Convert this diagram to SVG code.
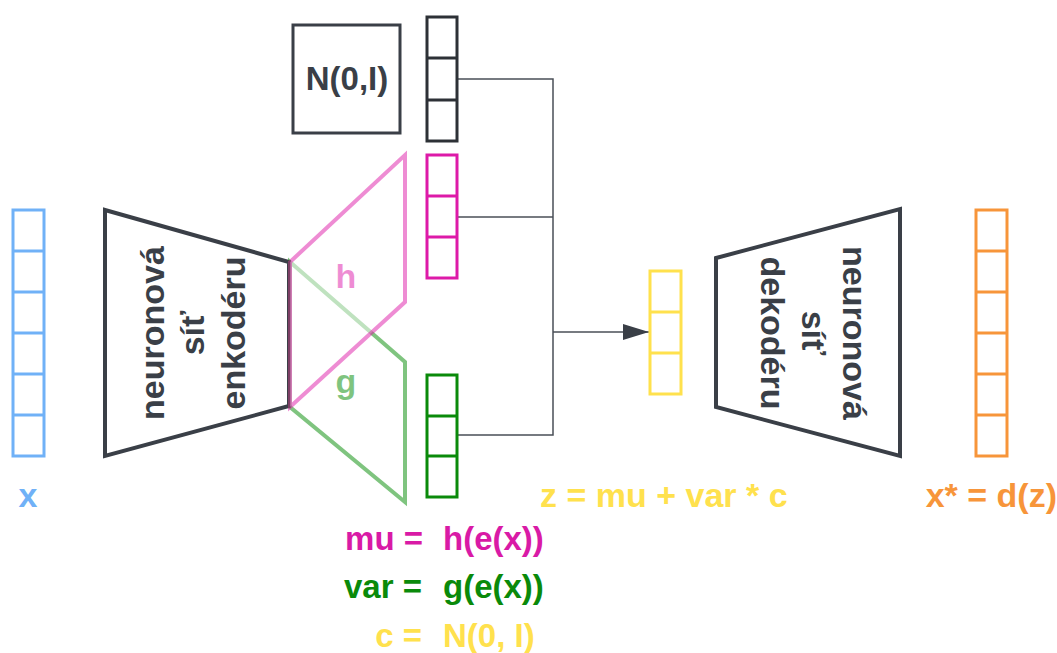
<svg xmlns="http://www.w3.org/2000/svg" width="1057" height="653" viewBox="0 0 1057 653">
<defs>
<marker id="arr" markerWidth="26" markerHeight="16" refX="26" refY="8" orient="auto" markerUnits="userSpaceOnUse">
<path d="M0,0 L26,8 L0,16 Z" fill="#3a3f47"/>
</marker>
</defs>
<style>
.t{font-family:"Liberation Sans",Arial,sans-serif;font-weight:bold;font-size:34px}
.eq{font-size:33px}
.net{fill:#fff;stroke:#3a3f47;stroke-width:4;stroke-linejoin:miter}
.nt{fill:#3a3f47;text-anchor:middle}
.vec{fill:none;stroke-width:3}
.conn{fill:none;stroke:#4a4f57;stroke-width:1.5}
</style>
<rect width="1057" height="653" fill="#fff"/>

<g id="connectors">
<path class="conn" d="M457,79 H553 V435 H457"/>
<path class="conn" d="M457,217 H553"/>
<path class="conn" d="M553,332 H649" marker-end="url(#arr)"/>
</g>

<g id="x-vector" class="vec" stroke="#70b1f7">
<rect x="13" y="210" width="31" height="246"/>
<path d="M13,251 H44 M13,292 H44 M13,333 H44 M13,374 H44 M13,415 H44"/>
</g>
<text id="x-label" class="t" x="28" y="507" fill="#70b1f7" text-anchor="middle">x</text>

<g id="encoder">
<polygon class="net" points="105,210 289,262 289,406 105,456"/>
<text class="t nt" transform="translate(193,333) rotate(-90)"><tspan x="0" y="-29">neuronová</tspan><tspan x="0" y="11">síť</tspan><tspan x="0" y="52">enkodéru</tspan></text>
</g>

<g id="g-branch">
<polygon points="290,262 405,362 405,502 290,407" fill="none" stroke="#008a00" stroke-opacity="0.5" stroke-width="4"/>
<text class="t" x="346" y="393" fill="#008a00" fill-opacity="0.5" text-anchor="middle">g</text>
</g>

<g id="h-branch">
<polygon points="290,262 405,155 405,302 290,407" fill="#fff" fill-opacity="0.5" stroke="#dd1aa8" stroke-opacity="0.5" stroke-width="4"/>
<text class="t" x="346" y="288" fill="#dd1aa8" fill-opacity="0.5" text-anchor="middle">h</text>
</g>

<g id="normal-box">
<rect x="293" y="25" width="107" height="108" fill="#fff" stroke="#3a3f47" stroke-width="3"/>
<text class="t" x="347" y="90" fill="#3a3f47" text-anchor="middle" style="font-size:33px">N(0,I)</text>
</g>

<g id="c-vector" class="vec" stroke="#2d3136">
<rect x="427" y="17" width="30" height="124"/>
<path d="M427,58 H457 M427,100 H457"/>
</g>

<g id="mu-vector" class="vec" stroke="#dd1aa8">
<rect x="427" y="155" width="30" height="123"/>
<path d="M427,196 H457 M427,237 H457"/>
</g>

<g id="var-vector" class="vec" stroke="#0a8a0a">
<rect x="427" y="375" width="30" height="122"/>
<path d="M427,416 H457 M427,456 H457"/>
</g>

<g id="z-vector" class="vec" stroke="#ffe14d">
<rect x="650" y="271" width="31" height="123"/>
<path d="M650,312 H681 M650,353 H681"/>
</g>
<text id="z-label" class="t" x="540" y="507" fill="#ffe14d">z = mu + var * c</text>

<g id="decoder">
<polygon class="net" points="716,258 900,209 900,456 716,407"/>
<text class="t nt" transform="translate(810,333) rotate(90)"><tspan x="0" y="-33">neuronová</tspan><tspan x="0" y="8">síť</tspan><tspan x="0" y="49">dekodéru</tspan></text>
</g>

<g id="xstar-vector" class="vec" stroke="#f7953a">
<rect x="976" y="210" width="31" height="246"/>
<path d="M976,251 H1007 M976,292 H1007 M976,333 H1007 M976,374 H1007 M976,415 H1007"/>
</g>
<text id="xstar-label" class="t" x="1057" y="507" fill="#f7953a" text-anchor="end">x* = d(z)</text>

<g id="equations" class="t eq">
<text x="423" y="550" fill="#d91aa6" text-anchor="end">mu =</text>
<text x="443" y="550" fill="#d91aa6">h(e(x))</text>
<text x="422" y="598" fill="#0a8a0a" text-anchor="end">var =</text>
<text x="443" y="598" fill="#0a8a0a">g(e(x))</text>
<text x="422" y="647" fill="#ffe14d" text-anchor="end">c =</text>
<text x="443" y="647" fill="#ffe14d">N(0, I)</text>
</g>
</svg>
